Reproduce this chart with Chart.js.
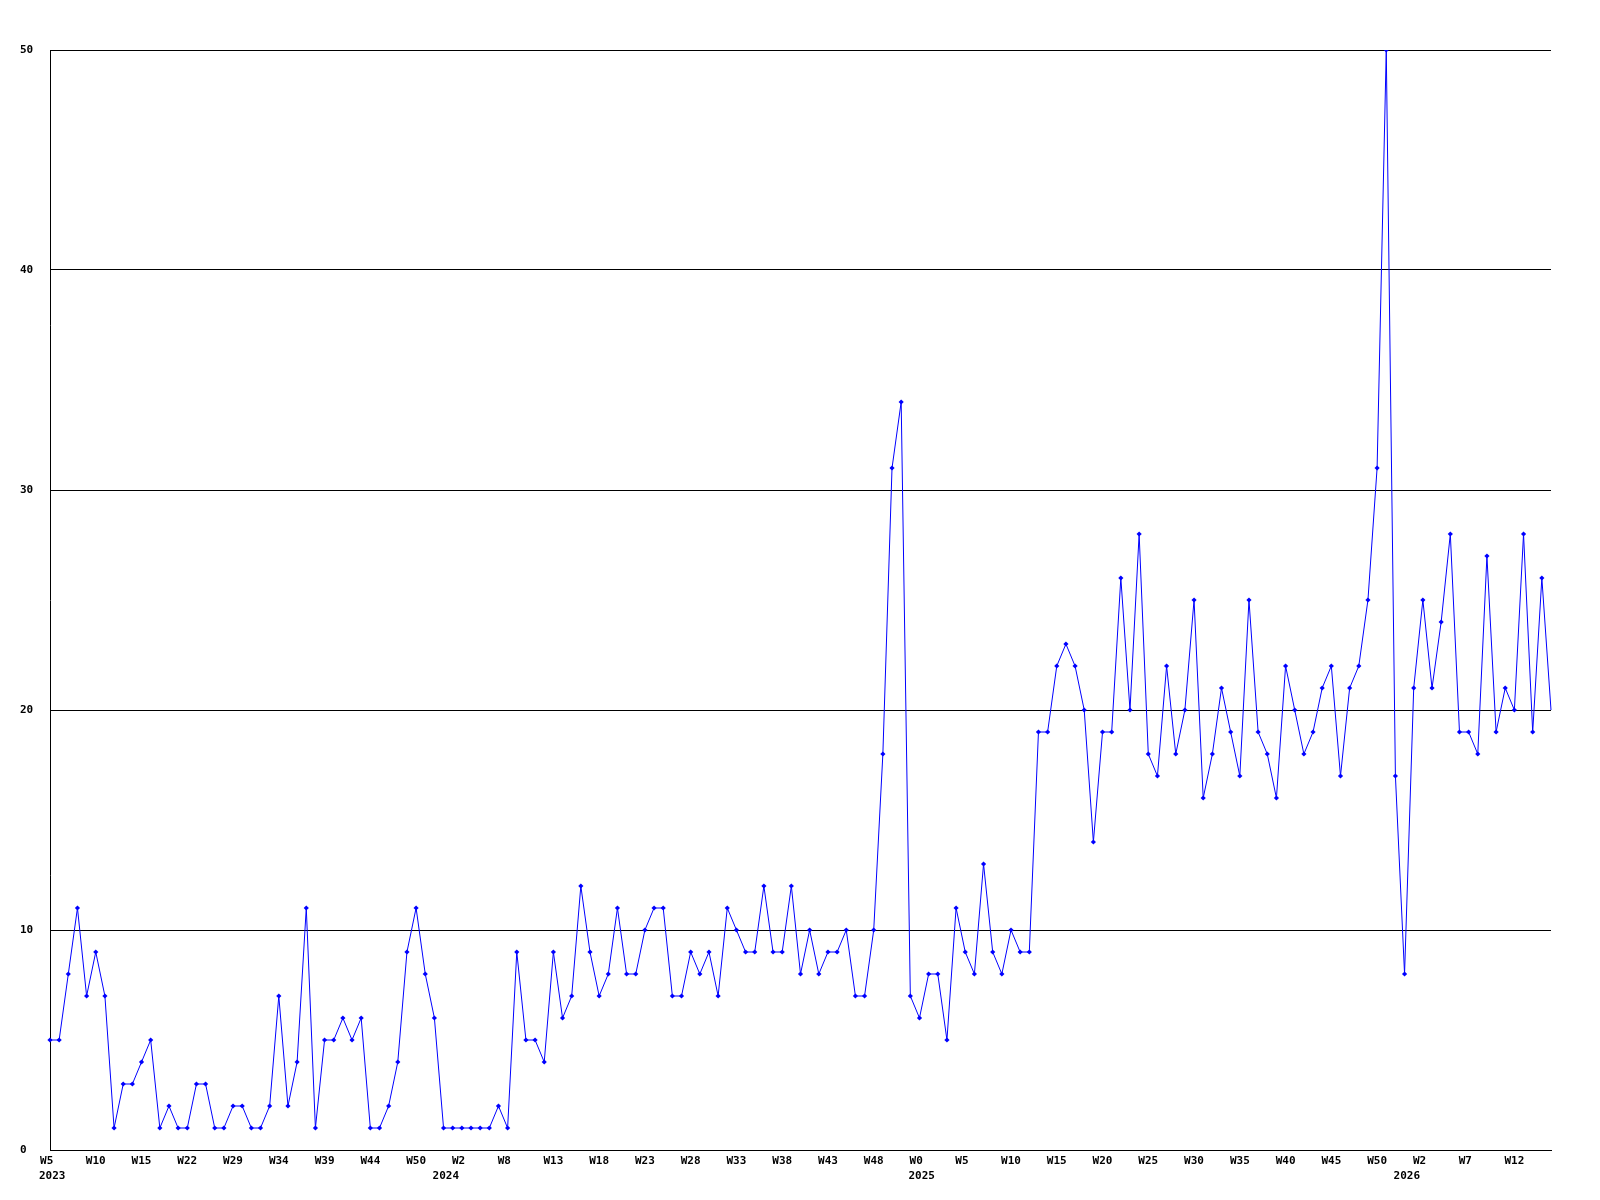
<!DOCTYPE html>
<html>
<head>
<meta charset="utf-8">
<script src="https://cdn.jsdelivr.net/npm/chart.js@4.4.1/dist/chart.umd.min.js"></script>
<style>
html,body{margin:0;padding:0;background:#fff;}
#wrap{width:1600px;height:1200px;}
</style>
</head>
<body>
<div id="wrap"><canvas id="c" width="1600" height="1200" style="width:1600px;height:1200px"></canvas></div>
<script>
// Weekly counts, 2023 W5 .. 2026 W16 (one value per point)
const values2023 = [5,5,8,11,7,9,7,1,3,3,4,5,1,2,1,1,3,3,1,1,2,2,1,1,2,7,2,4,11,1,
  5,5,6,5,6,1,1,2,4,9,11,8,6];
const values2024 = [1,1,1,1,1,1,2,1,9,5,5,4,9,6,7,12,9,7,8,11,
  8,8,10,11,11,7,7,9,8,9,7,11,10,9,9,12,9,9,12,8,10,8,9,9,10,7,7,10,18,31,34,7];
const values2025 = [6,8,8,5,11,9,8,13,9,8,10,9,9,19,19,22,23,22,20,14,19,19,26,20,28,18,17,22,18,20,25,
  16,18,21,19,17,25,19,18,16,22,20,18,19,21,22,17,21,22,25,31,50,17];
const values2026 = [8,21,25,21,24,28,19,19,18,27,19,21,20,28,19,26,20];

// Tick labels shown on the x axis (one every 5 points)
const weekTicks = ['W5','W10','W15','W22','W29','W34','W39','W44','W50','W2','W8','W13','W18','W23',
  'W28','W33','W38','W43','W48','W0','W5','W10','W15','W20','W25','W30','W35','W40','W45','W50',
  'W2','W7','W12'];
const tickEvery = 5;
// Year labels and the point where each year starts
const yearNames = ['2023','2024','2025','2026'];
const yearStart = [0, 43, 95, 148];
const yTicks = [0,10,20,30,40,50];

const values = values2023.concat(values2024, values2025, values2026);
const categories = values.map((v,i) => (i % tickEvery === 0 && weekTicks[i/tickEvery] !== undefined) ? weekTicks[i/tickEvery] : '');

const FONT = {family:'"DejaVu Sans Mono", monospace', size:11, weight:'bold'};

const yearPlugin = {
  id:'yearLabels',
  afterDraw(chart){
    const xs = chart.scales.x;
    const ctx = chart.ctx;
    ctx.save();
    ctx.font = 'bold 11px "DejaVu Sans Mono", monospace';
    ctx.fillStyle = '#000';
    ctx.textAlign = 'left';
    ctx.textBaseline = 'middle';
    yearNames.forEach((name,k) => {
      const x = xs.getPixelForValue(yearStart[k]);
      ctx.fillText(name, x - 11, xs.top + 26);
    });
    ctx.restore();
  }
};

new Chart(document.getElementById('c'), {
  type:'line',
  data:{
    labels: categories,
    datasets:[{
      data: values,
      borderColor:'#0000ff',
      backgroundColor:'#0000ff',
      borderWidth:1,
      tension:0,
      fill:false,
      pointStyle:'rectRot',
      pointRadius:(c) => c.dataIndex === values.length - 1 ? 0 : 2.6,
      pointBorderWidth:0,
      pointBackgroundColor:'#0000ff'
    }]
  },
  options:{
    responsive:false,
    animation:false,
    devicePixelRatio:1,
    layout:{padding:{top:50,right:49,left:20,bottom:0}},
    plugins:{legend:{display:false},tooltip:{enabled:false},title:{display:false}},
    scales:{
      x:{
        type:'category',
        offset:false,
        grid:{display:false, drawTicks:false},
        border:{display:true,color:'#000',width:1},
        ticks:{
          autoSkip:false, maxRotation:0, minRotation:0, padding:5,
          color:'#000', font:FONT,
          callback:function(val,idx){ const l = this.getLabelForValue(val); return l ? l.padEnd(3,' ') : ''; }
        },
        afterFit(scale){ scale.height = 50; }
      },
      y:{
        min:0, max:50,
        afterBuildTicks(scale){ scale.ticks = yTicks.map(v => ({value:v})); },
        grid:{color:'#000', lineWidth:1, drawTicks:false},
        border:{display:true,color:'#000',width:1},
        ticks:{crossAlign:'far', color:'#000', font:FONT, padding:0},
        afterFit(scale){ scale.width = 30; }
      }
    }
  },
  plugins:[yearPlugin]
});
</script>
</body>
</html>
